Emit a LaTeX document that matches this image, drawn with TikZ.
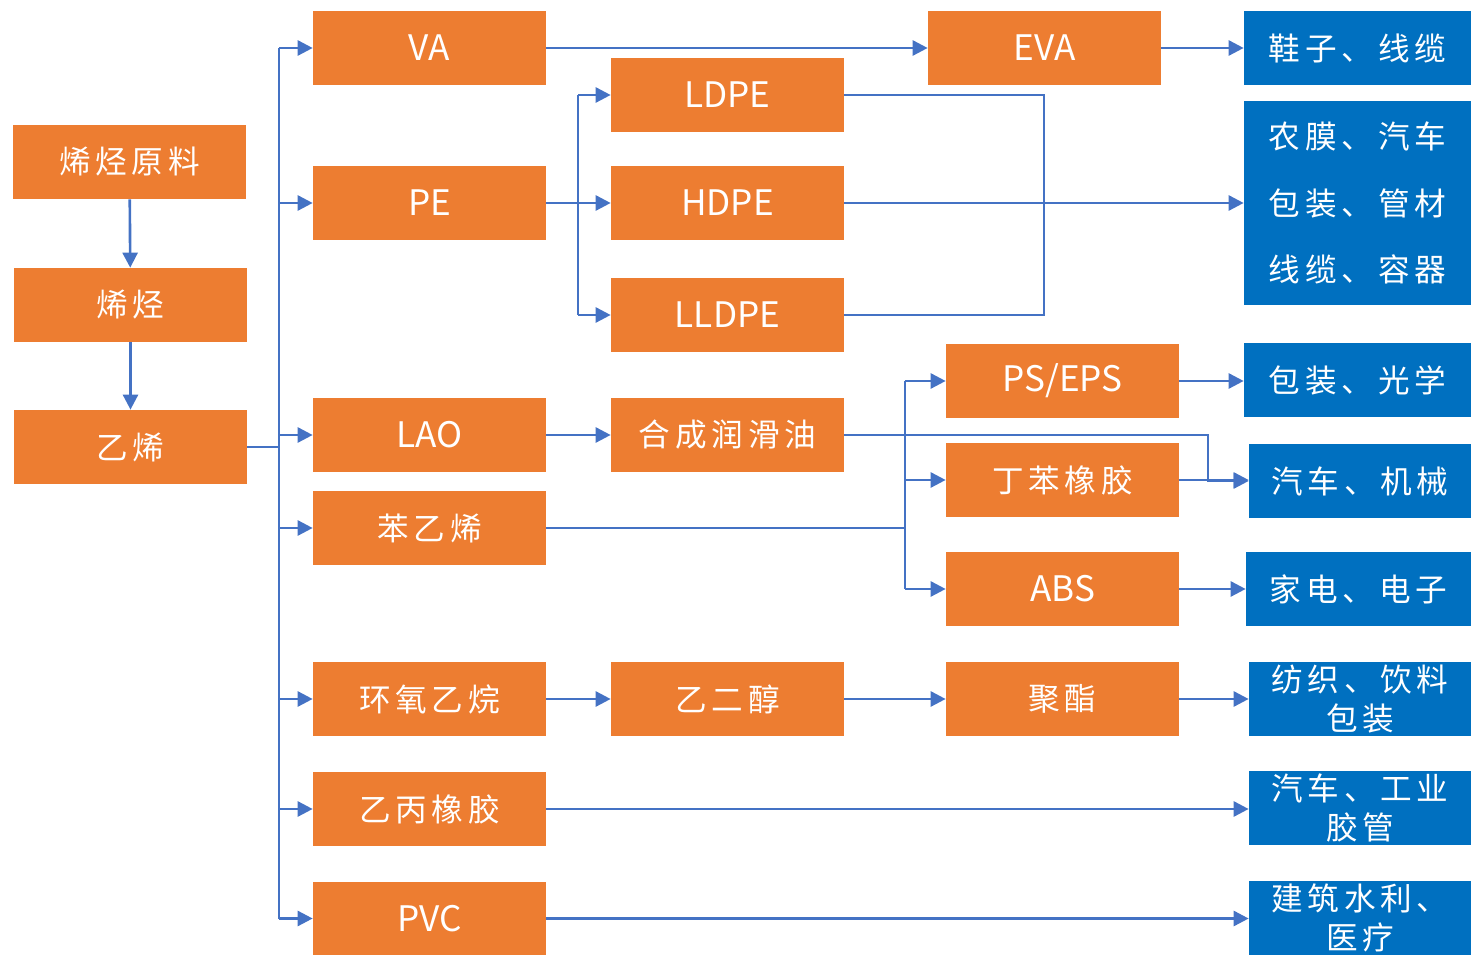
\documentclass[tikz,border=0pt]{standalone}
\usepackage{fontspec}
\setmainfont{Noto Sans CJK SC}
\newfontfamily\cjkwide[LetterSpace=15]{Noto Sans CJK SC}
\usetikzlibrary{arrows.meta,calc}
\definecolor{boxorange}{HTML}{ED7D31}
\definecolor{boxblue}{HTML}{0070C0}
\definecolor{linkblue}{HTML}{4472C4}

\begin{document}
\begin{tikzpicture}[
  x=0.02cm, y=-0.02cm,
  obox/.style={fill=boxorange, text=white, minimum width=4.66cm, minimum height=1.48cm, inner sep=0pt, align=center, font=\cjkwide\fontsize{18}{22}\selectfont},
  latin/.style={font=\normalfont\fontsize{20}{24}\selectfont},
  bbox/.style={fill=boxblue, text=white, minimum width=4.44cm, minimum height=1.48cm, inner sep=0pt, align=center, font=\cjkwide\fontsize{18}{22}\selectfont},
  wire/.style={draw=linkblue, line width=1.5pt},
  link/.style={wire, -{Triangle[length=0.3cm,width=0.3cm]}}
]
\useasboundingbox (0,0) rectangle (1471,955);

% raw material chain
\node[obox] (raw) at (129.5,162) {烯烃原料};
\node[obox] (olefin) at (130.5,305) {烯烃};
\node[obox] (ethylene) at (130.5,447) {乙烯};

% first derivatives
\node[obox, latin] (va) at (429.5,48) {VA};
\node[obox, latin] (pe) at (429.5,203) {PE};
\node[obox, latin] (lao) at (429.5,435) {LAO};
\node[obox] (styrene) at (429.5,528) {苯乙烯};
\node[obox] (eo) at (429.5,699) {环氧乙烷};
\node[obox] (epr) at (429.5,809) {乙丙橡胶};
\node[obox, latin, minimum height=1.46cm] (pvc) at (429.5,918.5) {PVC};

% second derivatives
\node[obox, latin] (ldpe) at (727.5,95) {LDPE};
\node[obox, latin] (hdpe) at (727.5,203) {HDPE};
\node[obox, latin] (lldpe) at (727.5,315) {LLDPE};
\node[obox] (lube) at (727.5,435) {合成润滑油};
\node[obox] (meg) at (727.5,699) {乙二醇};
\node[obox, latin] (eva) at (1044.5,48) {EVA};
\node[obox, latin] (ps) at (1062.5,381) {PS/EPS};
\node[obox] (sbr) at (1062.5,480) {丁苯橡胶};
\node[obox, latin] (abs) at (1062.5,589) {ABS};
\node[obox] (pet) at (1062.5,699) {聚酯};

% end uses
\node[bbox, minimum width=4.54cm] (shoes) at (1357.5,48) {鞋子、线缆};
\node[bbox, minimum width=4.54cm, minimum height=4.08cm, font=\cjkwide\fontsize{18}{38}\selectfont] (film) at (1357.5,203) {农膜、汽车\\包装、管材\\线缆、容器};
\node[bbox, minimum width=4.54cm] (pack) at (1357.5,380) {包装、光学};
\node[bbox] (auto) at (1360,481) {汽车、机械};
\node[bbox, minimum width=4.5cm] (elec) at (1358.5,589) {家电、电子};
\node[bbox] (textile) at (1360,699) {纺织、饮料\\包装};
\node[bbox] (hose) at (1360,808) {汽车、工业\\胶管};
\node[bbox] (build) at (1360,918) {建筑水利、\\医疗};

% bus points
\coordinate (trunk) at (279,447);
\coordinate (pebus) at (578,203);
\coordinate (pemerge) at (1044,203);
\coordinate (lubeturn) at (1208,458);
\coordinate (psbus) at (905,528);

\draw[link] (raw) -- (olefin);
\draw[link] (olefin) -- (ethylene);

\draw[wire] (ethylene) -- (trunk);
\draw[wire] (trunk |- va) -- (trunk |- pvc);
\foreach \n in {va,pe,lao,styrene,eo,epr,pvc}
  \draw[link] (trunk |- \n) -- (\n);

\draw[link] (va) -- (eva);
\draw[link] (eva) -- (shoes);

\draw[link] (pe) -- (hdpe);
\draw[wire] (pebus |- ldpe) -- (pebus |- lldpe);
\draw[link] (pebus |- ldpe) -- (ldpe);
\draw[link] (pebus |- lldpe) -- (lldpe);
\draw[link] (hdpe) -- (film);
\draw[wire] (ldpe) -| (pemerge) |- (lldpe);

\draw[link] (lao) -- (lube);
\draw[link] (lube) -| (lubeturn) |- (auto);

\draw[wire] (styrene) -- (psbus);
\draw[wire] (psbus |- ps) -- (psbus |- abs);
\foreach \n in {ps,sbr,abs}
  \draw[link] (psbus |- \n) -- (\n);
\draw[link] (ps.east) -- (ps.east -| pack.west);
\draw[link] (sbr.east) -- (sbr.east -| auto.west);
\draw[link] (abs) -- (abs -| elec.west);

\draw[link] (eo) -- (meg);
\draw[link] (meg) -- (pet);
\draw[link] (pet) -- (textile);
\draw[link] (epr) -- (epr -| hose.west);
\draw[link] (pvc) -- (pvc -| build.west);
\end{tikzpicture}
\end{document}
